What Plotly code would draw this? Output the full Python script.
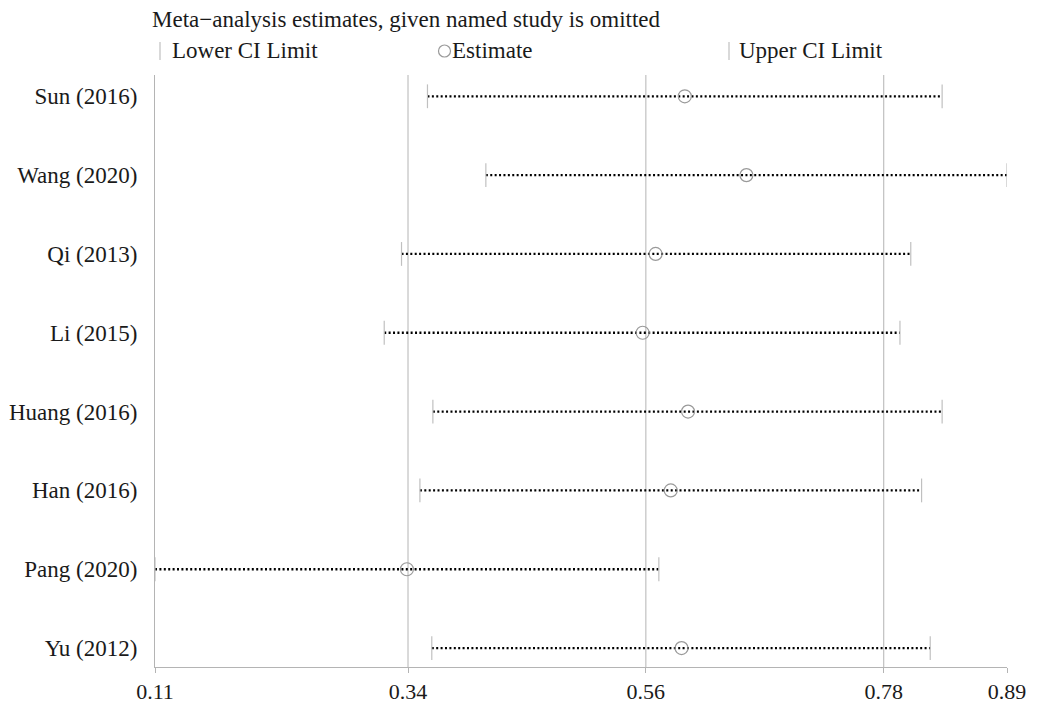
import plotly.graph_objects as go

studies = ["Sun (2016)", "Wang (2020)", "Qi (2013)", "Li (2015)",
           "Huang (2016)", "Han (2016)", "Pang (2020)", "Yu (2012)"]
lower = [0.358, 0.412, 0.334, 0.318, 0.363, 0.351, 0.106, 0.362]
estimate = [0.596, 0.653, 0.569, 0.557, 0.599, 0.583, 0.339, 0.593]
upper = [0.834, 0.894, 0.805, 0.795, 0.834, 0.815, 0.572, 0.823]

overall = [0.340, 0.560, 0.780]          # lower CI, estimate, upper CI (reference lines)
tick_vals = [0.106, 0.340, 0.560, 0.780, 0.894]
tick_text = ["0.11", "0.34", "0.56", "0.78", "0.89"]

FONT = "Liberation Serif, Times New Roman, serif"
GRAY = "#b4b4b4"
FS = 23

fig = go.Figure()

# dotted CI lines
lx, ly = [], []
for s, lo, hi in zip(studies, lower, upper):
    lx += [lo, hi, None]
    ly += [s, s, None]
fig.add_trace(go.Scatter(x=lx, y=ly, mode="lines",
                         line=dict(color="black", width=2.3, dash="2px,2.4px"),
                         showlegend=False, hoverinfo="skip"))
# caps
for vals in (lower, upper):
    fig.add_trace(go.Scatter(x=vals, y=studies, mode="markers",
                             marker=dict(symbol="line-ns", size=17,
                                         line=dict(color="#c0c0c0", width=1.2)),
                             showlegend=False))
# estimates
fig.add_trace(go.Scatter(x=estimate, y=studies, mode="markers",
                         marker=dict(symbol="circle-open", size=13,
                                     color="#9a9a9a", line=dict(width=1.2)),
                         showlegend=False))

# reference lines at overall CI / estimate
for v in overall:
    fig.add_shape(type="line", x0=v, x1=v, y0=0, y1=1, xref="x", yref="paper",
                  line=dict(color=GRAY, width=1), layer="below")

W, H = 1038, 706
ml, mr, mt, mb = 155, 31, 75, 39
pw, ph = W - ml - mr, H - mt - mb

def px(x):
    return (x - ml) / pw

def py(y):
    return 1 - (y - mt) / ph

ann_common = dict(xref="paper", yref="paper", showarrow=False, xanchor="left",
                  yanchor="middle", font=dict(family=FONT, size=FS, color="#1a1a1a"))

fig.add_annotation(text="Meta\u2212analysis estimates, given named study is omitted",
                   x=px(150), y=py(19), **ann_common)
fig.add_annotation(text="Lower CI Limit", x=px(170), y=py(51), **ann_common)
fig.add_annotation(text="Estimate", x=px(450), y=py(51), **ann_common)
fig.add_annotation(text="Upper CI Limit", x=px(737), y=py(51), **ann_common)
for xc in (160, 729):
    fig.add_shape(type="line", xref="paper", yref="paper",
                  x0=px(xc), x1=px(xc), y0=py(42), y1=py(60),
                  line=dict(color="#c0c0c0", width=1.2))
fig.add_shape(type="circle", xref="paper", yref="paper",
              x0=px(438.5), x1=px(450.5), y0=py(45), y1=py(57),
              line=dict(color="#9a9a9a", width=1.2))

fig.update_layout(
    width=W, height=H,
    margin=dict(l=ml, r=mr, t=mt, b=mb),
    paper_bgcolor="white", plot_bgcolor="white",
    font=dict(family=FONT, size=FS, color="#1a1a1a"),
    showlegend=False,
    xaxis=dict(range=[0.106, 0.894], tickvals=tick_vals, ticktext=tick_text,
               showgrid=False, zeroline=False, showline=True, linecolor=GRAY,
               linewidth=1, ticks="outside", ticklen=5, tickcolor=GRAY,
               tickfont=dict(size=22), automargin=False),
    yaxis=dict(type="category", categoryorder="array", categoryarray=studies,
               range=[7.24, -0.27], showgrid=False, zeroline=False,
               showline=True, linecolor=GRAY, linewidth=1, ticks="",
               ticklabelstandoff=12, tickfont=dict(size=FS), automargin=False),
)

fig.write_html("out.html")
